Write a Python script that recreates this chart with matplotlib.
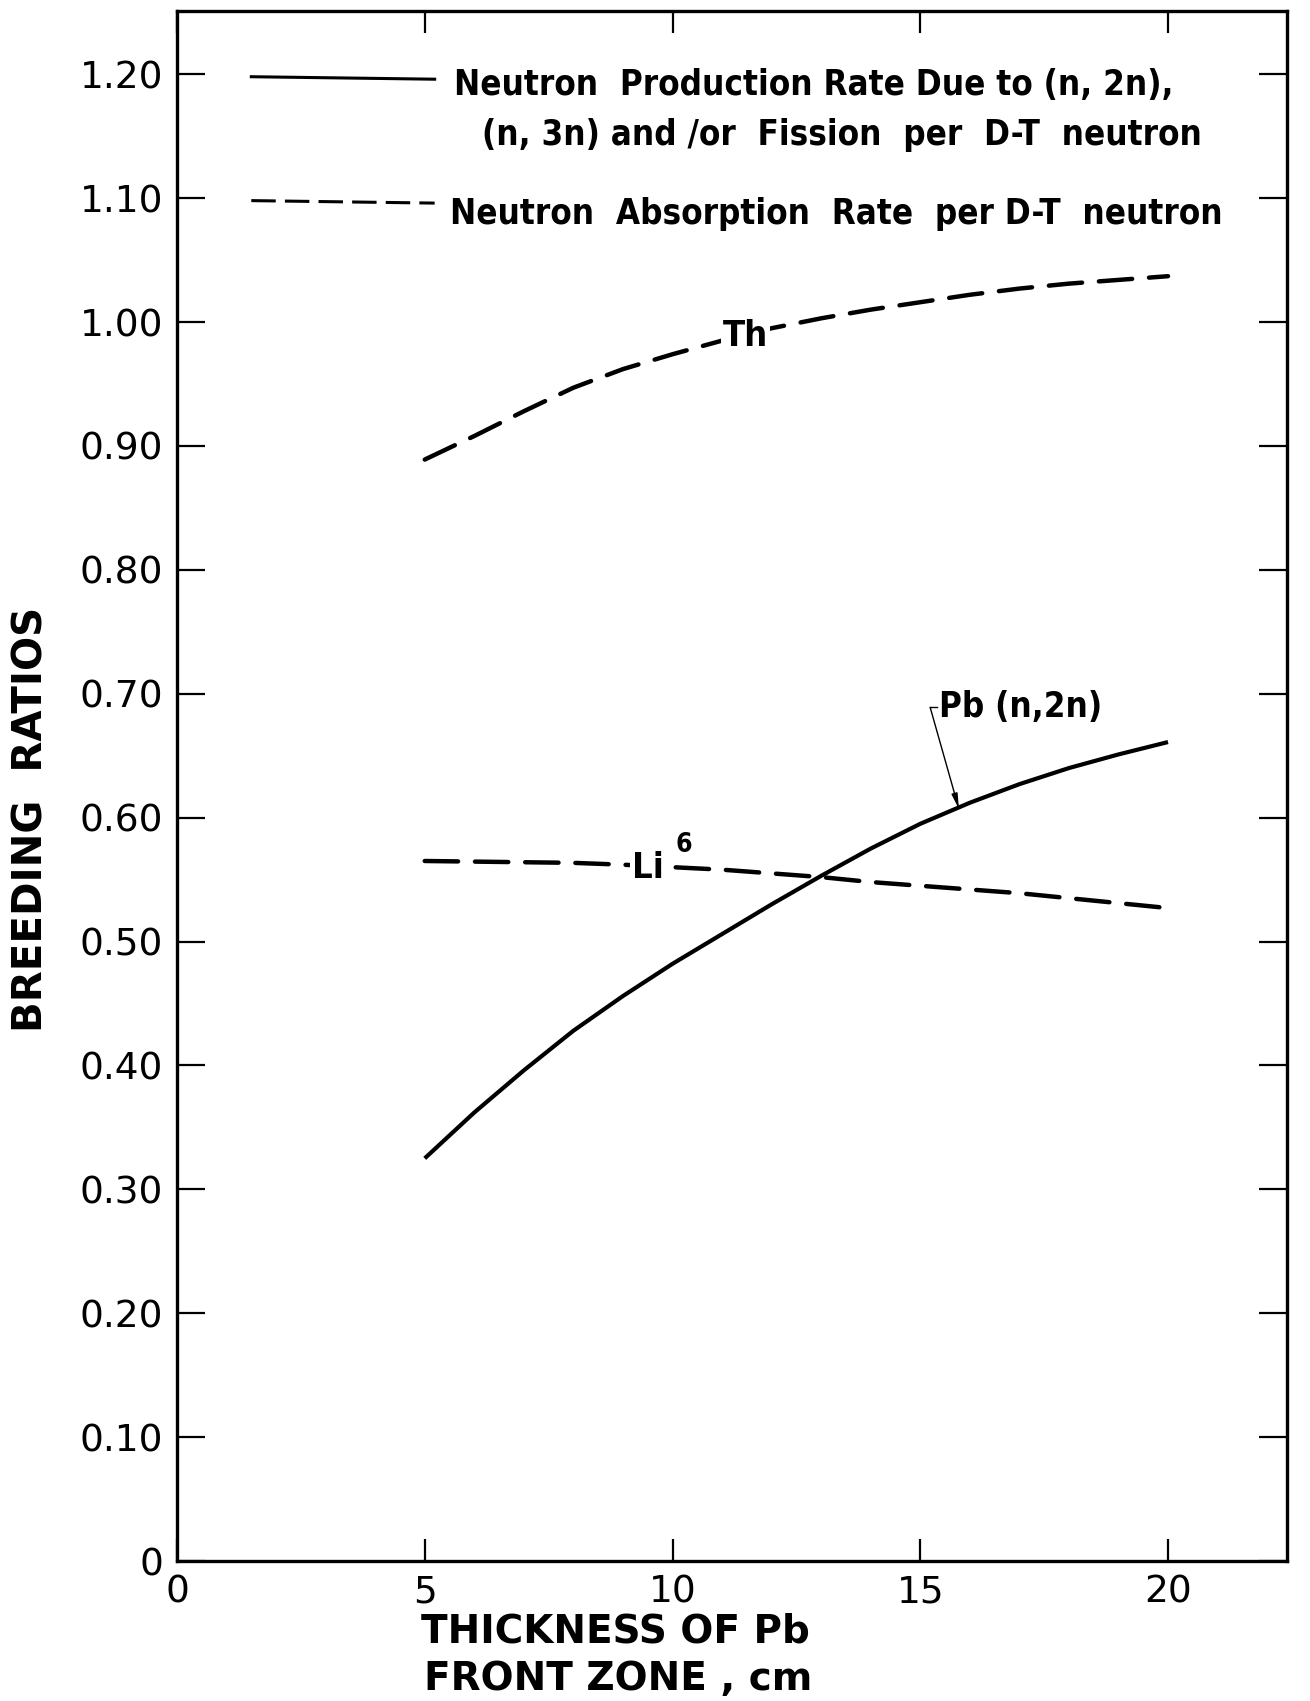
import numpy as np
import matplotlib
matplotlib.use('Agg')
import matplotlib.pyplot as plt
from matplotlib import font_manager

# values (thickness of Pb front zone, cm)
thickness = [5, 6, 7, 8, 9, 10, 11, 12, 13, 14, 15, 16, 17, 18, 19, 20]
pb_n2n = [0.325, 0.362, 0.396, 0.428, 0.456, 0.482, 0.506, 0.530,
          0.553, 0.575, 0.595, 0.612, 0.627, 0.640, 0.651, 0.661]
li6 = [0.565, 0.5645, 0.564, 0.5635, 0.562, 0.560, 0.558, 0.555,
       0.552, 0.548, 0.545, 0.542, 0.539, 0.535, 0.531, 0.527]
th = [0.889, 0.908, 0.928, 0.947, 0.962, 0.974, 0.985, 0.995,
      1.003, 1.010, 1.016, 1.022, 1.027, 1.031, 1.034, 1.037]

xticks = [0, 5, 10, 15, 20]
yticks = [0, 0.1, 0.2, 0.3, 0.4, 0.5, 0.6, 0.7, 0.8, 0.9, 1.0, 1.1, 1.2]
ytick_labels = ['0', '0.10', '0.20', '0.30', '0.40', '0.50', '0.60',
                '0.70', '0.80', '0.90', '1.00', '1.10', '1.20']

# pick a narrow face for the hand lettering if one exists
names = {(f.name, f.stretch) for f in font_manager.fontManager.ttflist}
if ('DejaVu Sans', 'condensed') in names or ('DejaVu Sans', 'semi-condensed') in names:
    narrow = dict(family='DejaVu Sans', fontstretch='condensed')
elif any(n == 'Liberation Sans Narrow' for n, s in names):
    narrow = dict(family='Liberation Sans Narrow')
else:
    narrow = dict(family='DejaVu Sans')

plt.rcParams['font.family'] = 'DejaVu Sans'

fig = plt.figure(figsize=(13.1, 17.01), dpi=100)
ax = fig.add_axes([0.1351, 0.0823, 0.8473, 0.9112])

dash = dict(color='black', lw=3.2, dashes=(7.5, 3.8), dash_capstyle='round')
ax.plot(thickness, th, **dash)
ax.plot(thickness, li6, **dash)
ax.plot(thickness, pb_n2n, color='black', lw=3.0, solid_capstyle='butt')

ax.set_xlim(0, 22.4)
ax.set_ylim(0, 1.251)
ax.set_xticks(xticks)
ax.set_xticklabels([str(v) for v in xticks])
ax.set_yticks(yticks)
ax.set_yticklabels(ytick_labels)
ax.tick_params(axis='both', direction='in', length=20, width=1.6,
               labelsize=27, pad=10, top=True, right=True)
ax.tick_params(axis='x', length=16, pad=10)
for s in ax.spines.values():
    s.set_linewidth(2.4)

# legend drawn by hand, as in the original lettering
ax.plot([1.5, 5.2], [1.198, 1.196], color='black', lw=2.2)
ax.plot([1.5, 5.2], [1.098, 1.096], color='black', lw=2.2, dashes=(8, 3))
ax.text(5.6, 1.191, 'Neutron  Production Rate Due to (n, 2n),', fontsize=25,
        weight='bold', va='center', ha='left', **narrow)
ax.text(6.15, 1.151, '(n, 3n) and /or  Fission  per  D-T  neutron', fontsize=25,
        weight='bold', va='center', ha='left', **narrow)
ax.text(5.5, 1.087, 'Neutron  Absorption  Rate  per D-T  neutron', fontsize=25,
        weight='bold', va='center', ha='left', **narrow)

# curve labels
box = dict(facecolor='white', edgecolor='none', pad=1.5)
ax.text(11.47, 0.989, 'Th', fontsize=26, weight='bold', ha='center', va='center',
        bbox=box, **narrow)
ax.text(9.5, 0.559, 'Li', fontsize=26, weight='bold', ha='center', va='center',
        bbox=box, **narrow)
ax.text(10.22, 0.578, '6', fontsize=19, ha='center', va='center', weight='bold', **narrow)
ax.text(15.38, 0.689, 'Pb (n,2n)', fontsize=25, weight='bold', ha='left', va='center',
        **narrow)
ax.plot([15.2, 15.34], [0.689, 0.689], color='black', lw=1.0)
ax.annotate('', xy=(15.78, 0.607), xytext=(15.2, 0.689),
            arrowprops=dict(arrowstyle='-|>,head_length=0.9,head_width=0.18',
                            color='black', lw=1.0, shrinkA=0, shrinkB=0))

fig.text(0.024, 0.518, 'BREEDING  RATIOS', rotation=90, fontsize=29,
         weight='bold', ha='center', va='center')
fig.text(0.321, 0.0406, 'THICKNESS OF Pb', fontsize=28, weight='bold',
         ha='left', va='center')
fig.text(0.324, 0.0129, 'FRONT ZONE , cm', fontsize=28, weight='bold',
         ha='left', va='center')

fig.savefig('out.png', dpi=100, facecolor='white')
